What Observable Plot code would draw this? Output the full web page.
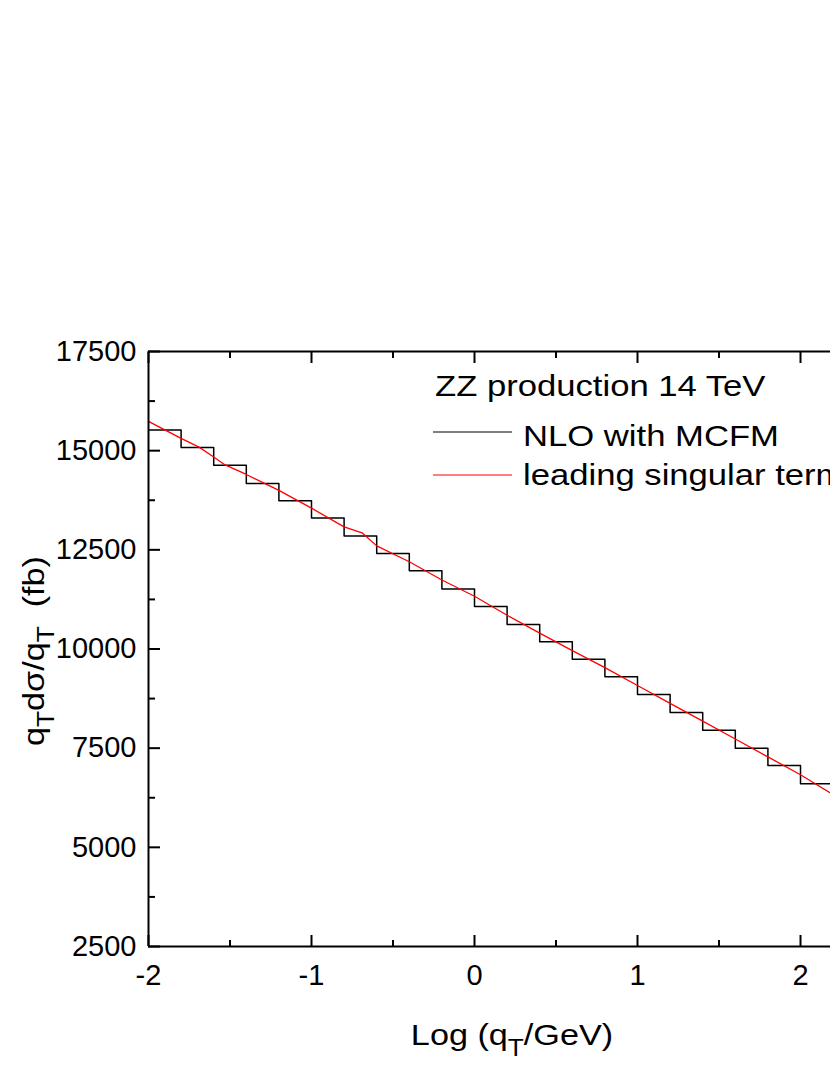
<!DOCTYPE html>
<html><head><meta charset="utf-8">
<script src="https://cdn.jsdelivr.net/npm/d3@7"></script>
<script src="https://cdn.jsdelivr.net/npm/@observablehq/plot@0.6"></script>
<style>
html,body{margin:0;padding:0;background:#fff;overflow:hidden;}
</style></head><body><div id="chart"></div>
<script>
// ---- data ----
const binEdges = [-2.0,-1.8,-1.6,-1.4,-1.2,-1.0,-0.8,-0.6,-0.4,-0.2,0.0,0.2,0.4,0.6,0.8,1.0,1.2,1.4,1.6,1.8,2.0,2.2];
const nloValues = [15520,15080,14630,14170,13740,13300,12850,12410,11970,11510,11070,10620,10180,9740,9300,8850,8400,7950,7500,7060,6600];
const singularX = [-2.0,-1.8,-1.69,-1.6,-1.53,-1.4,-1.2,-1.0,-0.8,-0.69,-0.6,-0.4,-0.2,0.0,0.2,0.4,0.6,0.8,1.0,1.2,1.4,1.6,1.8,2.0,2.2];
const singularY = [15740,15310,15090,14840,14640,14400,14000,13550,13080,12930,12600,12200,11740,11330,10850,10400,9960,9530,9080,8630,8180,7730,7280,6830,6330];
const xMajorTicks = [-2,-1,0,1,2];
const xMinorTicks = [-1.5,-0.5,0.5,1.5];
const yMajorTicks = [2500,5000,7500,10000,12500,15000,17500];
const yMinorTicks = [3750,6250,8750,11250,13750,16250];
const legendTitle = "ZZ production 14 TeV";
const seriesNames = ["NLO with MCFM","leading singular term"];
const seriesColors = ["#000000","#ff0000"];

const FONT = "'Liberation Sans', Arial, Helvetica, sans-serif";

const stepData = binEdges.map((x, i) => ({x, y: nloValues[Math.min(i, nloValues.length - 1)]}));
const redData = singularX.map((x, i) => ({x, y: singularY[i]}));

const W = 830, H = 1075;
const mL = 148, mT = 351, mB = 129, mR = 0;

const plot = Plot.plot({
  width: W, height: H,
  marginLeft: mL, marginTop: mT, marginBottom: mB, marginRight: mR,
  x: {domain: [-2, 2.184]},
  y: {domain: [2500, 17500]},
  style: {fontFamily: FONT, fontSize: "29px", background: "white", color: "black"},
  marks: [
    Plot.line(stepData, {x: "x", y: "y", curve: "step-after", stroke: seriesColors[0], strokeWidth: 1.5, clip: true}),
    Plot.line(redData, {x: "x", y: "y", stroke: seriesColors[1], strokeWidth: 1.3, clip: true}),
    Plot.ruleX([-2], {strokeWidth: 2}),
    Plot.ruleY([2500, 17500], {strokeWidth: 2}),
    Plot.axisY({ticks: yMajorTicks, tickSize: 0, tickPadding: 12, tickFormat: d => String(d), label: null, fontSize: 29}),
    Plot.axisY({ticks: yMajorTicks, tickSize: -12, fill: "none", label: null, strokeWidth: 2}),
    Plot.axisY({ticks: yMinorTicks, tickSize: -7, fill: "none", label: null, strokeWidth: 2}),
    Plot.axisX({anchor: "bottom", ticks: xMajorTicks, tickSize: 0, tickPadding: 18, tickFormat: d => String(d), label: null, fontSize: 29}),
    Plot.axisX({anchor: "bottom", ticks: xMajorTicks, tickSize: -11, fill: "none", label: null, strokeWidth: 2}),
    Plot.axisX({anchor: "bottom", ticks: xMinorTicks, tickSize: -6, fill: "none", label: null, strokeWidth: 2}),
    Plot.axisX({anchor: "top", ticks: xMajorTicks, tickSize: -11, fill: "none", label: null, strokeWidth: 2}),
    Plot.axisX({anchor: "top", ticks: xMinorTicks, tickSize: -6, fill: "none", label: null, strokeWidth: 2})
  ]
});
document.getElementById("chart").appendChild(plot);

// ---- legend and axis titles ----
const svg = d3.select(plot);
const g = svg.append("g").attr("font-family", FONT).attr("fill", "black").attr("font-size", 30).attr("text-anchor", "start");
const SX = 1.155;

g.append("text").attr("text-anchor", "start").attr("transform", `translate(435,396) scale(${SX},1)`).text(legendTitle);
const legY = [432, 475], legText = [446, 485];
seriesNames.forEach((name, i) => {
  g.append("line").attr("x1", 433).attr("x2", 512).attr("y1", legY[i]).attr("y2", legY[i])
    .attr("stroke", seriesColors[i]).attr("stroke-width", 1.2);
  g.append("text").attr("text-anchor", "start").attr("transform", `translate(523,${legText[i]}) scale(${SX},1)`).text(name);
});

// x title
const xt = g.append("text").attr("text-anchor", "middle").attr("transform", `translate(512,1045) scale(1.14,1)`);
xt.append("tspan").text("Log (q");
xt.append("tspan").attr("font-size", 23).attr("dy", 11).text("T");
xt.append("tspan").attr("dy", -11).text("/GeV)");

// y title
const yt = g.append("text").attr("text-anchor", "middle").attr("transform", `translate(44,651) rotate(-90) scale(1.14,1)`);
yt.append("tspan").text("q");
yt.append("tspan").attr("font-size", 23).attr("dy", 10).text("T");
yt.append("tspan").attr("dy", -10).text("d\u03c3/q");
yt.append("tspan").attr("font-size", 23).attr("dy", 10).text("T");
yt.append("tspan").attr("dy", -10).text("\u00a0\u00a0(fb)");
</script>
</body></html>
